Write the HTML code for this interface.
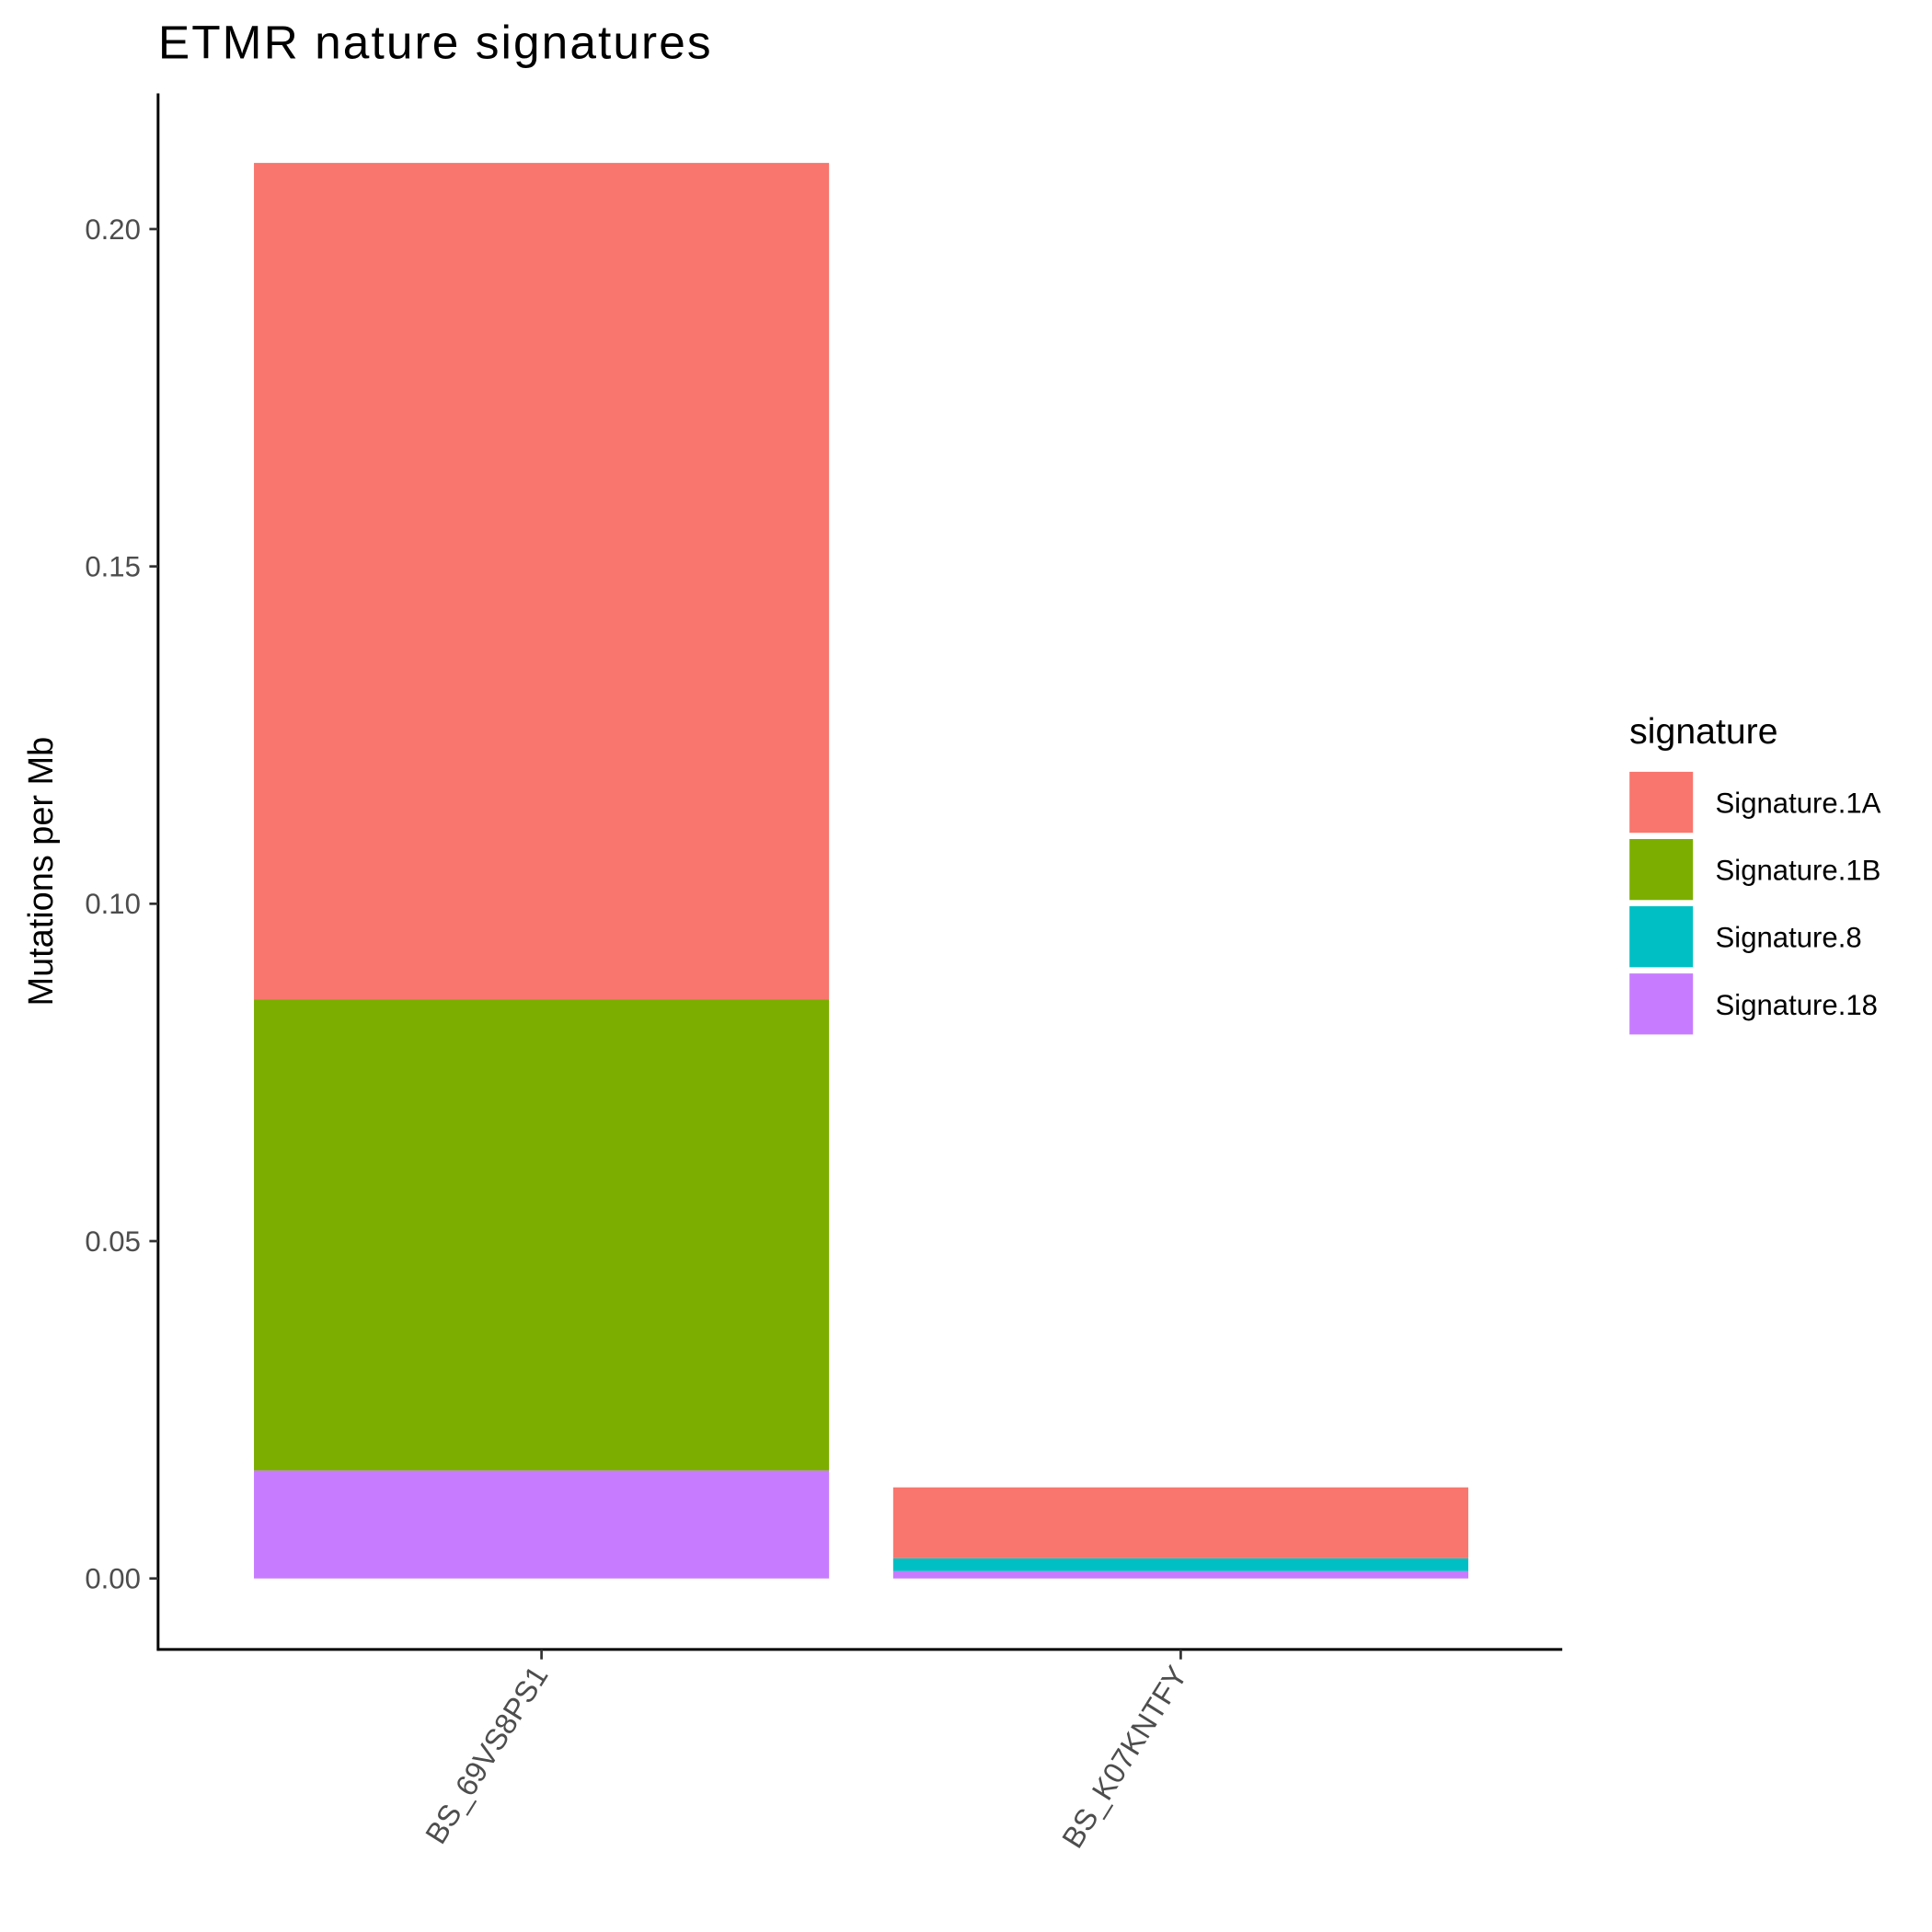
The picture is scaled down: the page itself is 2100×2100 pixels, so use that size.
<!DOCTYPE html>
<html><head><meta charset="utf-8"><style>
html,body{margin:0;padding:0;background:#fff}
svg{display:block}
text{font-family:"Liberation Sans",Arial,sans-serif}
</style></head><body>
<svg id="chart" width="2100" height="2100" viewBox="0 0 1552 1552" xmlns="http://www.w3.org/2000/svg">
<rect width="1552" height="1552" fill="#fff"/>
<text x="127" y="47" font-size="38" textLength="444" fill="#000">ETMR nature signatures</text>
<text transform="translate(42,700) rotate(-90)" text-anchor="middle" font-size="28" fill="#000">Mutations per Mb</text>
<g id="bars"></g>
<g id="axes"></g>
<text x="1309" y="597" font-size="29" fill="#000">signature</text>
<g id="legend"></g>
</svg>
<script>
const categories = ["BS_69VS8PS1", "BS_K07KNTFY"];
const signatures = ["Signature.1A", "Signature.1B", "Signature.8", "Signature.18"];
const colors = ["#F8766D", "#7CAE00", "#00BFC4", "#C77CFF"];
const sig1A = [0.1240, 0.0105];
const sig1B = [0.0698, 0.0];
const sig8 = [0.0, 0.0019];
const sig18 = [0.0160, 0.0011];
const yTicks = [0, 0.05, 0.10, 0.15, 0.20];
const yTickLabels = ["0.00", "0.05", "0.10", "0.15", "0.20"];

const NS = "http://www.w3.org/2000/svg";
const plotL = 127, plotR = 1255, plotT = 75, plotB = 1325;
const y0px = 1268, y20px = 184;
function yScale(v){ return y0px + (y20px - y0px) * v / 0.20; }
const bandStep = 513.5, firstCenter = 435, barW = 462;
function xCenter(i){ return firstCenter + i * bandStep; }
function mk(tag, attrs){ const e=document.createElementNS(NS,tag); for(const k in attrs) e.setAttribute(k,attrs[k]); return e; }

const bars = document.getElementById('bars');
const stackOrder = [[sig18,3],[sig8,2],[sig1B,1],[sig1A,0]];
categories.forEach((c,i)=>{
  let base = 0;
  stackOrder.forEach(([arr,si])=>{
    const v = arr[i];
    if (v <= 0) return;
    const yTop = yScale(base + v), yBot = yScale(base);
    const r = mk('rect',{x:xCenter(i)-barW/2, y:yTop, width:barW, height:yBot-yTop, fill:colors[si]});
    
    
    bars.appendChild(r);
    base += v;
  });
});

const axes = document.getElementById('axes');
const yAxis = mk('line',{x1:plotL, y1:plotT, x2:plotL, y2:plotB+1, stroke:'#000', 'stroke-width':2.2});


axes.appendChild(yAxis);
const xAxis = mk('line',{x1:plotL-1, y1:plotB, x2:plotR, y2:plotB, stroke:'#000', 'stroke-width':2.2});


axes.appendChild(xAxis);
yTicks.forEach((t,k)=>{
  const y = yScale(t);
  const tk = mk('line',{x1:plotL-7, y1:y, x2:plotL, y2:y, stroke:'#333', 'stroke-width':2});
  
  
  axes.appendChild(tk);
  const lb = mk('text',{x:plotL-14, y:y+8, 'text-anchor':'end', 'font-size':23, fill:'#4d4d4d'});
  lb.textContent = yTickLabels[k];
  
  
  axes.appendChild(lb);
});
categories.forEach((c,i)=>{
  const x = xCenter(i);
  const tk = mk('line',{x1:x, y1:plotB, x2:x, y2:plotB+8, stroke:'#333', 'stroke-width':2});
  
  
  axes.appendChild(tk);
  const lb = mk('text',{transform:'translate('+(x+6)+','+(plotB+20)+') rotate(-58)', 'text-anchor':'end', 'font-size':24, fill:'#4d4d4d'});
  lb.textContent = c;
  
  
  axes.appendChild(lb);
});

const legend = document.getElementById('legend');
signatures.forEach((s,k)=>{
  const y = 620 + k*54;
  const r = mk('rect',{x:1309, y:y, width:51, height:49, fill:colors[k]});
  
  
  legend.appendChild(r);
  const t = mk('text',{x:1378, y:y+33, 'font-size':23, fill:'#000'});
  t.textContent = s;
  
  
  legend.appendChild(t);
});
</script>
</body></html>
